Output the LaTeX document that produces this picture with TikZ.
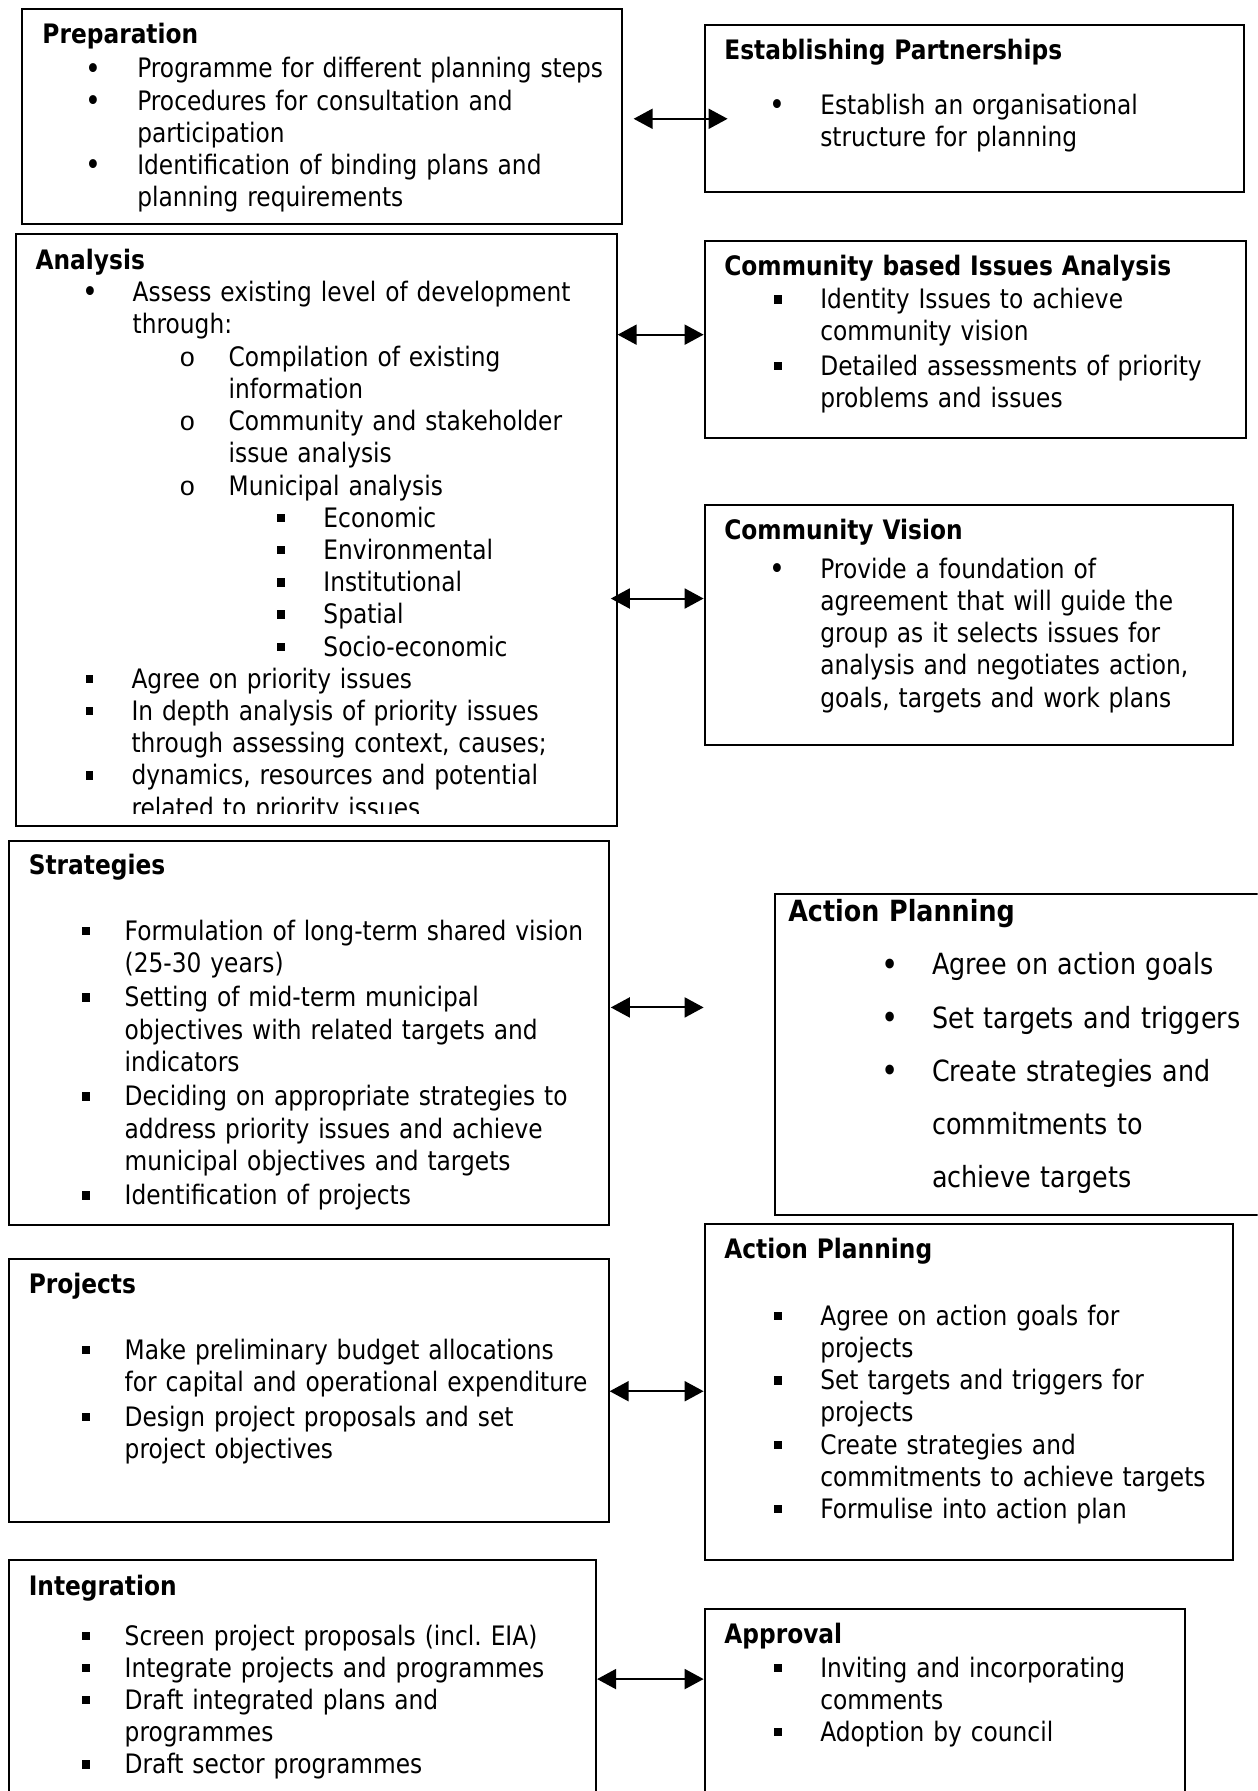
\documentclass[tikz,border=0pt]{standalone}
\usepackage{graphicx}
\usepackage{fontspec}
\setmainfont{DejaVu Sans}[FakeStretch=0.87]
\newfontfamily\monofam{Liberation Mono}
\usetikzlibrary{arrows.meta,calc}
\frenchspacing

% one drawing unit
\newlength\dpx
\setlength\dpx{1.1426pt}

% bullet line: bullet centred at #1, text starting at #2 (offsets from the block's left edge)
\newcommand\itm[4]{\hspace*{#1\dpx}\makebox[0pt]{#3}\hspace*{\dimexpr#2\dpx-#1\dpx\relax}#4}
% continuation line of a bullet
\newcommand\cnt[2]{\hspace*{#1\dpx}#2}
\newcommand\bul{\raisebox{-1.2pt}{\scalebox{1.15}{•}}}
\newcommand\sq{\raisebox{5pt}{\rule{7.5pt}{8.5pt}}}
\newcommand\ring{{\monofam o}}

\tikzset{
  box/.style={draw, line width=2pt, inner sep=0pt, anchor=north west},
  txt/.style={anchor=base west, inner sep=0pt, text width=700\dpx,
              font=\fontsize{26.8pt}{32.22pt}\selectfont},
  bigtxt/.style={anchor=base west, inner sep=0pt, text width=700\dpx,
              font=\fontsize{29.2pt}{53.13pt}\selectfont},
  link/.style={line width=2pt,
               {Triangle[length=19pt,width=20pt]}-{Triangle[length=19pt,width=20pt]}}
}

\begin{document}
\begin{tikzpicture}[x=1.1426pt,y=-1.1426pt]
\clip (0,0) rectangle (1101,1568);
\fill[white] (0,0) rectangle (1101,1568);

% ---------- frames ----------
\node[box, minimum width=526\dpx, minimum height=188\dpx] (prep)  at (18,7)    {};
\node[box, minimum width=472\dpx, minimum height=146\dpx] (ep)    at (616,21)  {};
\node[box, minimum width=526\dpx, minimum height=518\dpx] (ana)   at (13,204)  {};
\node[box, minimum width=474\dpx, minimum height=173\dpx] (cbia)  at (616,210) {};
\node[box, minimum width=463\dpx, minimum height=210\dpx] (cv)    at (616,441) {};
\node[box, minimum width=525\dpx, minimum height=337\dpx] (strat) at (7,735)   {};
\node[box, minimum width=460\dpx, minimum height=281\dpx] (apa)   at (678,782) {};
\node[box, minimum width=525\dpx, minimum height=231\dpx] (proj)  at (7,1101)  {};
\node[box, minimum width=463\dpx, minimum height=294\dpx] (apb)   at (616,1071){};
\node[box, minimum width=514\dpx, minimum height=230\dpx] (integ) at (7,1365)  {};
\node[box, minimum width=421\dpx, minimum height=200\dpx] (appr)  at (616,1408){};

% ---------- texts ----------
\node[txt] (prepT) at (37,38) {\textbf{Preparation}\\[2\dpx]
\itm{45}{83}{\bul}{Programme for different planning steps}\\
\itm{45}{83}{\bul}{Procedures for consultation and}\\
\cnt{83}{participation}\\
\itm{45}{83}{\bul}{Identification of binding plans and}\\
\cnt{83}{planning requirements}};

\node[txt] (epT) at (634,52) {\textbf{Establishing Partnerships}\\[20\dpx]
\itm{46}{84}{\bul}{Establish an organisational}\\
\cnt{84}{structure for planning}};

\begin{scope}
\clip (13,204) rectangle (539,712);
\node[txt] (anaT) at (31,236) {\textbf{Analysis}\\
\itm{48}{85}{\bul}{Assess existing level of development}\\
\cnt{85}{through:}\\
\itm{133}{169}{\ring}{Compilation of existing}\\
\cnt{169}{information}\\
\itm{133}{169}{\ring}{Community and stakeholder}\\
\cnt{169}{issue analysis}\\
\itm{133}{169}{\ring}{Municipal analysis}\\
\itm{215}{252}{\sq}{Economic}\\
\itm{215}{252}{\sq}{Environmental}\\
\itm{215}{252}{\sq}{Institutional}\\
\itm{215}{252}{\sq}{Spatial}\\
\itm{215}{252}{\sq}{Socio-economic}\\
\itm{47}{84}{\sq}{Agree on priority issues}\\
\itm{47}{84}{\sq}{In depth analysis of priority issues}\\
\cnt{84}{through assessing context, causes;}\\
\itm{47}{84}{\sq}{dynamics, resources and potential}\\
\cnt{84}{related to priority issues}};
\end{scope}

\node[txt] (cbiaT) at (634,241) {\textbf{Community based Issues Analysis}\\[1\dpx]
\itm{47}{84}{\sq}{Identity Issues to achieve}\\
\cnt{84}{community vision}\\[2\dpx]
\itm{47}{84}{\sq}{Detailed assessments of priority}\\
\cnt{84}{problems and issues}};

\node[txt] (cvT) at (634,472) {\textbf{Community Vision}\\[6\dpx]
\itm{46}{84}{\bul}{Provide a foundation of}\\
\cnt{84}{agreement that will guide the}\\
\cnt{84}{group as it selects issues for}\\
\cnt{84}{analysis and negotiates action,}\\
\cnt{84}{goals, targets and work plans}};

\node[txt] (stratT) at (25,766) {\textbf{Strategies}\\[29\dpx]
\itm{50}{84}{\sq}{Formulation of long-term shared vision}\\
\cnt{84}{(25-30 years)}\\[2\dpx]
\itm{50}{84}{\sq}{Setting of mid-term municipal}\\
\cnt{84}{objectives with related targets and}\\
\cnt{84}{indicators}\\[2\dpx]
\itm{50}{84}{\sq}{Deciding on appropriate strategies to}\\
\cnt{84}{address priority issues and achieve}\\
\cnt{84}{municipal objectives and targets}\\[2\dpx]
\itm{50}{84}{\sq}{Identification of projects}};

\node[bigtxt] (apaT) at (690,807) {\textbf{Action Planning}\\[0\dpx]
\itm{89}{126}{\bul}{Agree on action goals}\\
\itm{89}{126}{\bul}{Set targets and triggers}\\
\itm{89}{126}{\bul}{Create strategies and}\\
\cnt{126}{commitments to}\\
\cnt{126}{achieve targets}};

\node[txt] (projT) at (25,1132) {\textbf{Projects}\\[30\dpx]
\itm{50}{84}{\sq}{Make preliminary budget allocations}\\
\cnt{84}{for capital and operational expenditure}\\[2\dpx]
\itm{50}{84}{\sq}{Design project proposals and set}\\
\cnt{84}{project objectives}};

\node[txt] (apbT) at (634,1102) {\textbf{Action Planning}\\[30\dpx]
\itm{47}{84}{\sq}{Agree on action goals for}\\
\cnt{84}{projects}\\
\itm{47}{84}{\sq}{Set targets and triggers for}\\
\cnt{84}{projects}\\
\itm{47}{84}{\sq}{Create strategies and}\\
\cnt{84}{commitments to achieve targets}\\
\itm{47}{84}{\sq}{Formulise into action plan}};

\node[txt] (integT) at (25,1397) {\textbf{Integration}\\[15\dpx]
\itm{50}{84}{\sq}{Screen project proposals (incl. EIA)}\\
\itm{50}{84}{\sq}{Integrate projects and programmes}\\
\itm{50}{84}{\sq}{Draft integrated plans and}\\
\cnt{84}{programmes}\\
\itm{50}{84}{\sq}{Draft sector programmes}};

\node[txt] (apprT) at (634,1439) {\textbf{Approval}\\[1\dpx]
\itm{47}{84}{\sq}{Inviting and incorporating}\\
\cnt{84}{comments}\\
\itm{47}{84}{\sq}{Adoption by council}};

% ---------- two-way links ----------
\draw[link] ($(prep.east |- 0,104)+(9,0)$)  -- ($(ep.west |- 0,104)+(21,0)$);
\draw[link] (ana.east |- 0,293)             -- (cbia.west |- 0,293);
\draw[link] ($(ana.east |- 0,524)+(-6,0)$)  -- (cv.west |- 0,524);
\draw[link] ($(strat.east |- 0,882)+(1,0)$) -- ($(apa.west |- 0,882)+(-62,0)$);
\draw[link] (proj.east |- 0,1218)           -- (apb.west |- 0,1218);
\draw[link] (integ.east |- 0,1470)          -- (appr.west |- 0,1470);
\end{tikzpicture}
\end{document}
